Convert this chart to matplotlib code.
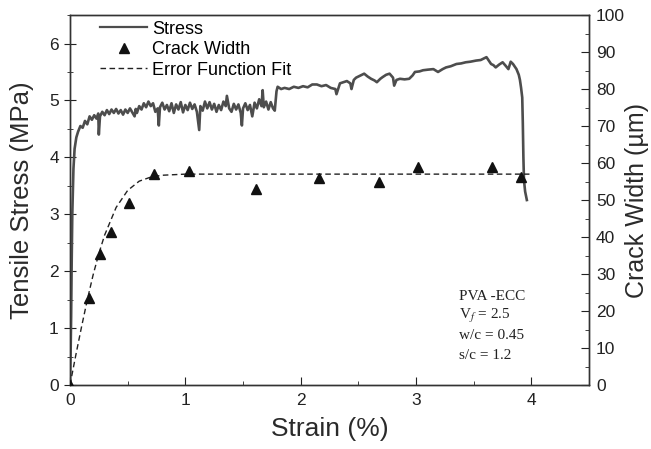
import matplotlib
matplotlib.use('Agg')
import matplotlib.pyplot as plt
from matplotlib.lines import Line2D
from matplotlib.ticker import MultipleLocator

plt.rcParams['font.family'] = ['Liberation Sans', 'DejaVu Sans']
plt.rcParams['mathtext.fontset'] = 'stix'
INK = '#222222'

# stress-strain curve
strain = [0, 0.005, 0.01, 0.015, 0.02, 0.03, 0.04, 0.055, 0.07, 0.09,
          0.11, 0.13, 0.15, 0.17, 0.19, 0.21, 0.23, 0.245, 0.25, 0.26,
          0.28, 0.30, 0.32, 0.34, 0.36, 0.38, 0.40, 0.42, 0.44, 0.46,
          0.48, 0.50, 0.52, 0.54, 0.56, 0.57, 0.58, 0.60, 0.62, 0.64,
          0.66, 0.68, 0.70, 0.72, 0.74, 0.76, 0.77, 0.78, 0.80, 0.82,
          0.84, 0.86, 0.88, 0.90, 0.92, 0.94, 0.96, 0.98, 1.00, 1.02,
          1.04, 1.06, 1.08, 1.10, 1.12, 1.13, 1.15, 1.17, 1.19, 1.21,
          1.23, 1.25, 1.27, 1.29, 1.31, 1.33, 1.35, 1.36, 1.38, 1.40,
          1.42, 1.44, 1.46, 1.48, 1.49, 1.50, 1.52, 1.54, 1.56, 1.58,
          1.60, 1.62, 1.64, 1.66, 1.67, 1.68, 1.70, 1.72, 1.74, 1.76,
          1.775, 1.79, 1.80,
          1.83, 1.86, 1.90, 1.94, 1.98, 2.02, 2.06, 2.10, 2.14, 2.18,
          2.22, 2.26, 2.30, 2.31, 2.34, 2.37, 2.40, 2.43, 2.44, 2.46,
          2.48, 2.52, 2.55, 2.58, 2.61, 2.64, 2.66, 2.69, 2.71, 2.74,
          2.77, 2.80, 2.81, 2.83, 2.86, 2.90, 2.94, 2.97, 2.99, 3.03,
          3.06, 3.10, 3.15, 3.19, 3.23, 3.26, 3.30, 3.35, 3.39, 3.43,
          3.47, 3.52, 3.56, 3.61, 3.63, 3.65, 3.67, 3.69, 3.72, 3.75,
          3.78, 3.80, 3.82, 3.84, 3.87, 3.89, 3.90, 3.91, 3.92, 3.925,
          3.93, 3.935, 3.945, 3.96]
stress = [0, 0.5, 1.2, 2.2, 3.0, 3.8, 4.15, 4.35, 4.45, 4.55,
          4.52, 4.64, 4.58, 4.72, 4.66, 4.74, 4.68, 4.77, 4.40, 4.72,
          4.80, 4.74, 4.83, 4.76, 4.84, 4.78, 4.85, 4.77, 4.83, 4.75,
          4.84, 4.78, 4.86, 4.79, 4.72, 4.85, 4.78, 4.90, 4.84, 4.95,
          4.88, 4.98, 4.90, 4.95, 4.80, 4.86, 4.56, 4.88, 4.96, 4.84,
          4.92, 4.81, 4.95, 4.78, 4.93, 4.84, 4.97, 4.79, 4.92, 4.83,
          4.96, 4.85, 4.93, 4.80, 4.48, 4.90, 4.82, 4.98, 4.86, 4.97,
          4.84, 4.94, 4.80, 4.92, 4.83, 4.98, 4.90, 5.08, 4.86, 4.80,
          4.94, 4.84, 4.93, 4.78, 4.56, 4.86, 4.95, 4.83, 4.92, 4.72,
          4.96, 4.86, 5.02, 4.90, 5.18, 4.88, 4.98, 4.84, 4.97, 4.86,
          4.82, 5.16, 5.24,
          5.20, 5.22, 5.20, 5.24, 5.22, 5.25, 5.23, 5.28, 5.28, 5.25,
          5.27, 5.22, 5.20, 5.11, 5.30, 5.32, 5.34, 5.30, 5.20, 5.36,
          5.40, 5.44, 5.47, 5.42, 5.38, 5.35, 5.32, 5.38, 5.41, 5.45,
          5.47, 5.40, 5.26, 5.36, 5.38, 5.37, 5.38, 5.44, 5.50, 5.51,
          5.53, 5.54, 5.55, 5.50, 5.55, 5.58, 5.60, 5.64, 5.65, 5.67,
          5.68, 5.70, 5.71, 5.76, 5.70, 5.64, 5.62, 5.58, 5.63, 5.67,
          5.60, 5.55, 5.68, 5.64, 5.55, 5.45, 5.36, 5.22, 5.05, 4.60,
          4.00, 3.60, 3.40, 3.25]

# crack width measurements (um)
crack_strain = [0, 0.165, 0.26, 0.355, 0.51, 0.73, 1.03, 1.61, 2.16, 2.68, 3.02, 3.66, 3.91]
crack_width = [0, 23.5, 35.4, 41.4, 49.2, 57.0, 57.8, 53.0, 55.9, 54.9, 58.9, 58.9, 56.2]

# error function fit, as drawn
fit_strain = [0, 0.05, 0.10, 0.15, 0.20, 0.25, 0.30, 0.40, 0.50, 0.60, 0.70, 0.80, 1.00, 4.00]
fit_width = [0, 8.0, 15.7, 23.0, 29.7, 35.5, 40.5, 48.0, 52.6, 55.1, 56.2, 56.7, 57.0, 57.0]

fig = plt.figure(figsize=(6.51, 4.49), dpi=100)
ax = fig.add_axes([0.1075, 0.1425, 0.7975, 0.824])
ax2 = ax.twinx()

ax.plot(strain, stress, color='#4d4d4d', lw=1.9, zorder=3)
ax2.plot(fit_strain, fit_width, color=INK, lw=1.0, ls=(0, (4, 2.5)), zorder=2)
ax2.plot(crack_strain, crack_width, ls='none', marker='^', ms=7, color='#111111', zorder=4)

ax.set_xlim(0, 4.5)
ax.set_ylim(0, 6.5)
ax2.set_ylim(0, 100)
ax.xaxis.set_major_locator(MultipleLocator(1))
ax.xaxis.set_minor_locator(MultipleLocator(0.5))
ax.yaxis.set_major_locator(MultipleLocator(1))
ax.yaxis.set_minor_locator(MultipleLocator(0.5))
ax2.yaxis.set_major_locator(MultipleLocator(10))
ax2.yaxis.set_minor_locator(MultipleLocator(5))

ax.tick_params(axis='x', which='both', direction='in', top=False, labelsize=12.5, pad=6, colors=INK)
ax.tick_params(axis='x', which='major', length=6)
ax.tick_params(axis='x', which='minor', length=3)
ax.tick_params(axis='y', which='both', direction='inout', labelsize=12.5, pad=4, colors=INK)
ax.tick_params(axis='y', which='major', length=8)
ax.tick_params(axis='y', which='minor', length=5)
ax2.tick_params(axis='y', which='both', direction='in', labelsize=12.5, pad=5, colors=INK)
ax2.tick_params(axis='y', which='major', length=6)
ax2.tick_params(axis='y', which='minor', length=3)
for a in (ax, ax2):
    for sp in a.spines.values():
        sp.set_color('#333333')
        sp.set_linewidth(1.0)

ax.set_xlabel('Strain (%)', fontsize=19, color='#2a2a2a', labelpad=6)
ax.set_ylabel('Tensile Stress (MPa)', fontsize=18.5, color='#2a2a2a', labelpad=11)
ax2.set_ylabel('Crack Width (\u00b5m)', fontsize=18, color='#2a2a2a', labelpad=0)

handles = [Line2D([], [], color='#4d4d4d', lw=1.6),
           Line2D([], [], ls='none', marker='^', ms=7, color='#111111'),
           Line2D([], [], color=INK, lw=1.0, ls=(0, (4, 2.5)))]
ax.legend(handles, ['Stress', 'Crack Width', 'Error Function Fit'], loc='upper left',
          bbox_to_anchor=(0.058, 0.985), frameon=False, fontsize=13, handlelength=2.6,
          handletextpad=0.3, labelspacing=0.2, borderpad=0, borderaxespad=0)

notes = ['PVA -ECC', r'V$_f$ = 2.5', 'w/c = 0.45', 's/c = 1.2']
for i, t in enumerate(notes):
    ax.text(0.749, 0.240 - i * 0.053, t, transform=ax.transAxes, fontsize=11,
            family='Liberation Serif', color=INK, va='center', ha='left')

fig.savefig('out.png', dpi=100, facecolor='white')
